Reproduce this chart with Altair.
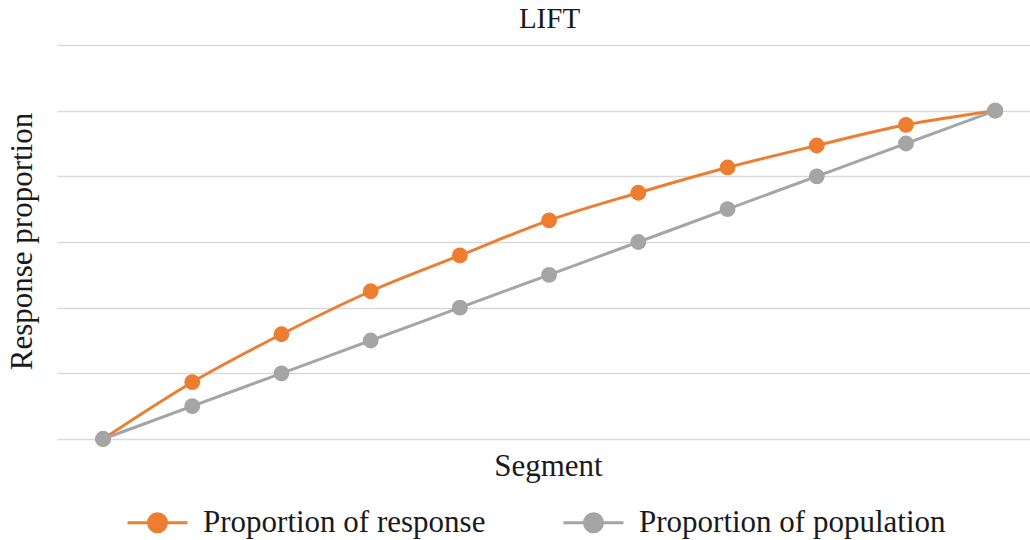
import altair as alt
import pandas as pd

segments = list(range(11))
response = [0, 0.173, 0.319, 0.45, 0.559, 0.666, 0.75, 0.827, 0.894, 0.957, 1.0]
population = [0, 0.1, 0.2, 0.3, 0.4, 0.5, 0.6, 0.7, 0.8, 0.9, 1.0]
series_names = ["Proportion of response", "Proportion of population"]
series_colors = ["#ED7D31", "#A5A5A5"]
grid_values = [0, 0.2, 0.4, 0.6, 0.8, 1.0, 1.2]

df_r = pd.DataFrame({"segment": segments, "value": response, "series": series_names[0]})
df_p = pd.DataFrame({"segment": segments, "value": population, "series": series_names[1]})

FONT = "Liberation Serif"
TXT = "#1a1a1a"

color = alt.Color(
    "series:N",
    scale=alt.Scale(domain=series_names, range=series_colors),
    legend=alt.Legend(
        title=None, orient="none", direction="horizontal",
        legendX=69, legendY=446,
        symbolType="M-1,0L1,0M0.3,0A0.3,0.3,0,1,1,-0.3,0A0.3,0.3,0,1,1,0.3,0Z",
        symbolSize=3600, symbolStrokeWidth=3,
        labelFont=FONT, labelFontSize=31, labelColor=TXT, labelLimit=500,
        labelOffset=14, columnPadding=71,
    ),
)

x = alt.X("segment:Q", scale=alt.Scale(domain=[-0.516, 10.39], nice=False, zero=False),
          axis=alt.Axis(title="Segment", labels=False, ticks=False, domain=False, grid=False,
                        titleFont=FONT, titleFontSize=31, titleFontWeight="normal",
                        titleColor=TXT, titleX=491, titleY=27, titleBaseline="middle"))
y = alt.Y("value:Q", scale=alt.Scale(domain=[0, 1.2], nice=False),
          axis=alt.Axis(title="Response proportion", labels=False, ticks=False, domain=False,
                        grid=True, gridColor="#D9D9D9", gridWidth=1.5, values=grid_values,
                        titleFont=FONT, titleFontSize=31, titleFontWeight="normal",
                        titleColor=TXT, titleAngle=-90, titleX=-35, titleY=196,
                        titleBaseline="middle", titleAlign="center"))

def series_layer(df):
    base = alt.Chart(df).encode(x=x, y=y, color=color)
    line = base.mark_line(strokeWidth=3, interpolate="monotone")
    pts = base.mark_circle(size=250, opacity=1)
    return line + pts

chart = alt.layer(series_layer(df_r), series_layer(df_p)).properties(
    width=973, height=394,
    background="white",
    title=alt.TitleParams("LIFT", font=FONT, fontSize=29, fontWeight="normal",
                          color=TXT, anchor="middle", dx=6, offset=11),
    autosize=alt.AutoSizeParams(type="none"),
    padding={"left": 57, "top": 45, "right": 0, "bottom": 101},
).configure_view(stroke=None)

chart.save("out.html", embed_options={"renderer": "svg", "actions": False})
